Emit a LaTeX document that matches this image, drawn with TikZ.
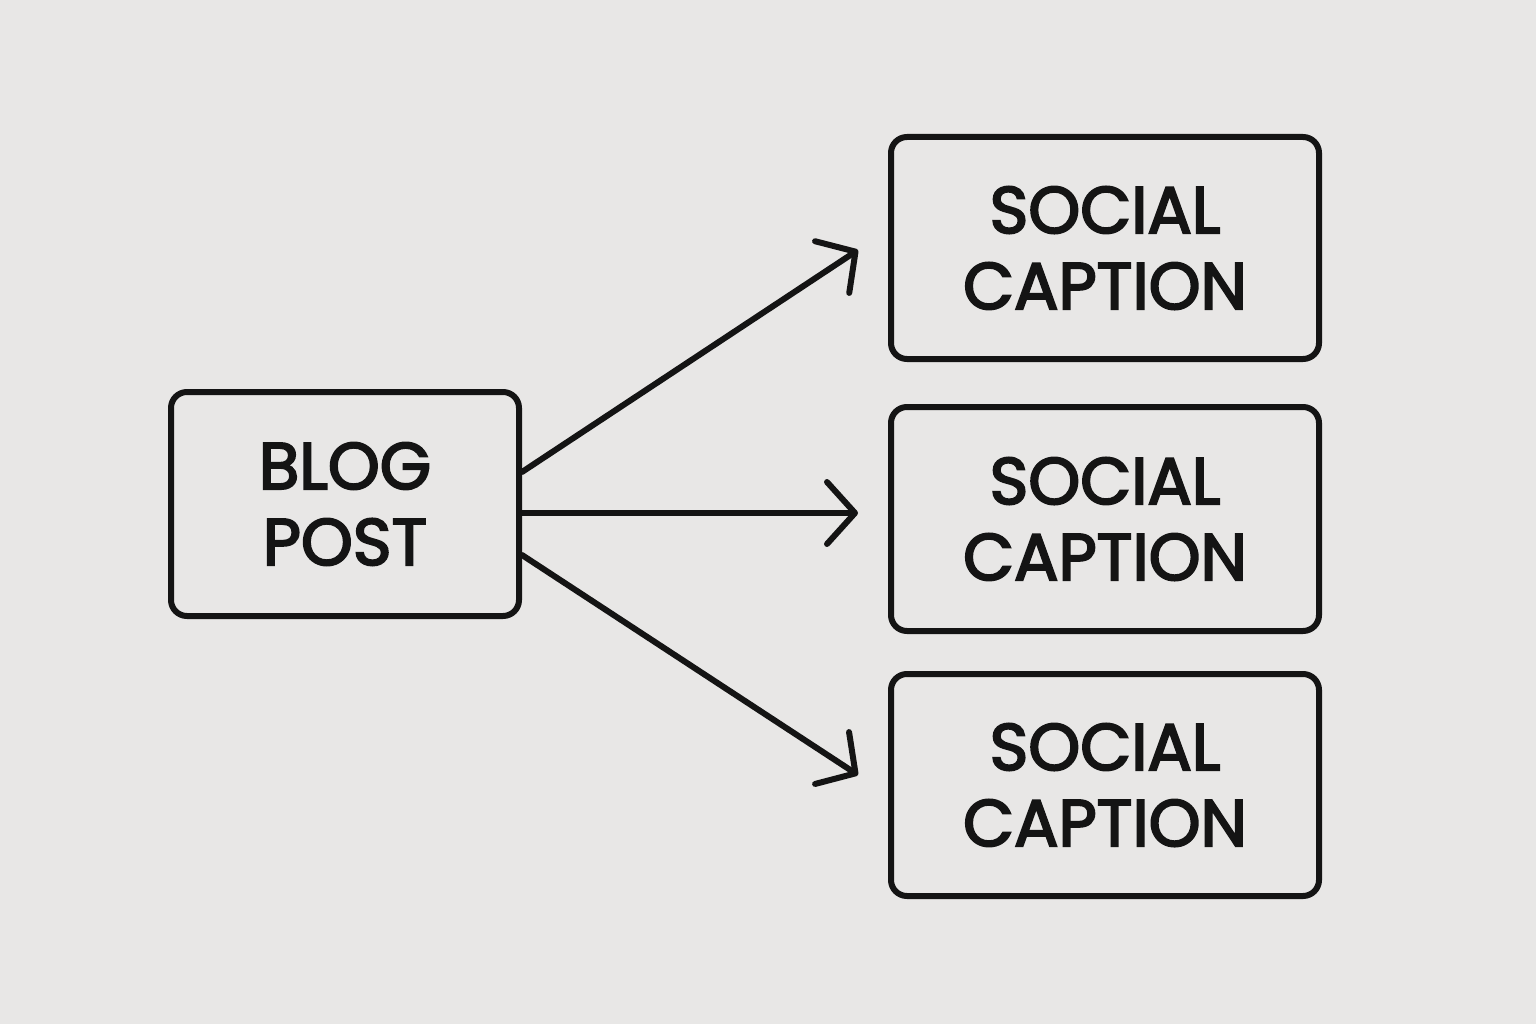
\documentclass[tikz,border=0pt]{standalone}
\usepackage{fontspec}
\setmainfont{Poppins}
\newfontfamily\medfont{Poppins}[UprightFeatures={FakeBold=3}]
\usetikzlibrary{arrows.meta}
\definecolor{bg}{HTML}{E8E7E6}
\definecolor{ink}{HTML}{141414}
\begin{document}
\begin{tikzpicture}[x=1pt,y=-1pt,
  box/.style={draw=ink,line width=6pt,rounded corners=16pt,align=center,inner sep=0pt,
    font=\medfont\fontsize{66}{76}\selectfont,text=ink},
  arr/.style={draw=ink,line width=6pt,line cap=round,-{Straight Barb[length=28pt,width=62pt,line width=6pt,round]}}]
\fill[bg] (0,0) rectangle (1536,1024);
\useasboundingbox (0,0) rectangle (1536,1024);
\node[box,minimum width=348pt,minimum height=224pt] (blog) at (345,504) {BLOG\\POST};
\node[box,minimum width=428pt,minimum height=222pt] (s1) at (1105,248) {SOCIAL\\CAPTION};
\node[box,minimum width=428pt,minimum height=224pt] (s2) at (1105,519) {SOCIAL\\CAPTION};
\node[box,minimum width=428pt,minimum height=222pt] (s3) at (1105,785) {SOCIAL\\CAPTION};
\coordinate (e1) at (858,250);
\coordinate (e2) at (858,513);
\coordinate (e3) at (858,775);
\draw[arr] (blog.east |- 0,472) -- (e1);
\draw[arr] (blog.east |- 0,513) -- (e2);
\draw[arr] (blog.east |- 0,555) -- (e3);
\end{tikzpicture}
\end{document}
